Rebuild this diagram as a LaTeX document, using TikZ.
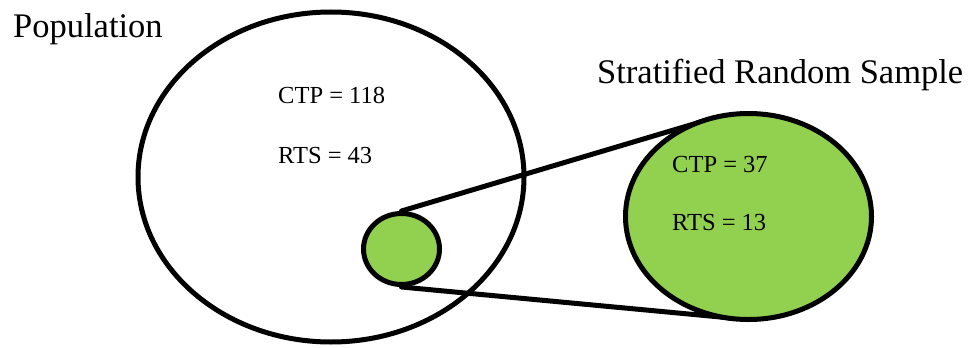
\documentclass[tikz,border=0pt]{standalone}
\usepackage{fontspec}
\setmainfont{Liberation Serif}
\usetikzlibrary{shapes.geometric,backgrounds,calc}
\definecolor{sgreen}{HTML}{92D050}
\begin{document}
\begin{tikzpicture}[x=1pt,y=-1pt,
  circ/.style={ellipse,draw=black,line width=5pt,inner sep=0pt},
  big/.style={font=\fontsize{34.5}{40}\selectfont,anchor=base west,inner sep=0pt},
  lbl/.style={font=\fontsize{24.5}{29}\selectfont,anchor=base west,inner sep=0pt},
  link/.style={line width=5pt,line cap=round}]
\useasboundingbox (0,0) rectangle (975,348);
\node[circ,minimum width=386pt,minimum height=330pt] (pop) at (331,177) {};
\node[circ,fill=sgreen,minimum width=246pt,minimum height=206pt] (samp) at (748.5,216.5) {};
\node[circ,fill=sgreen,minimum width=76pt,minimum height=71pt] (small) at (401.5,249) {};
\begin{scope}[on background layer]
\draw[link] (small.north) -- ($(samp.112.7)!3pt!(samp.center)$);
\draw[link] (small.south) -- ($(samp.262.1)!3pt!(samp.center)$);
\end{scope}
\node[big] (tpop) at (13,37) {Population};
\node[big] (tsamp) at (597,83) {Stratified Random Sample};
\node[lbl] (c1) at (278,103) {CTP = 118};
\node[lbl] (r1) at (278,163) {RTS = 43};
\node[lbl] (c2) at (672,172) {CTP = 37};
\node[lbl] (r2) at (672,230) {RTS = 13};
\end{tikzpicture}
\end{document}
